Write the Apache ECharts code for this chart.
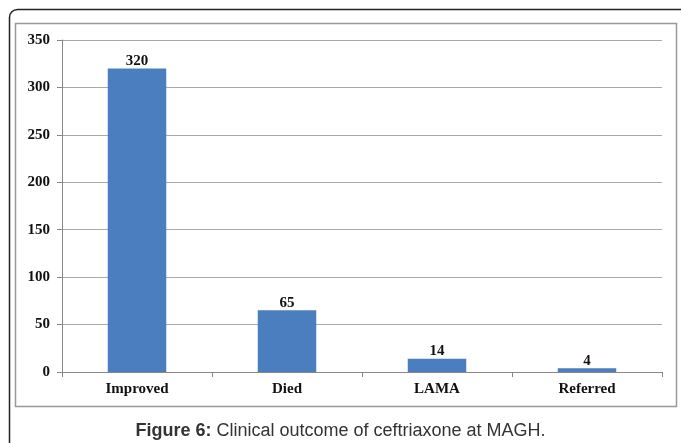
<!DOCTYPE html>
<html>
<head>
<meta charset="utf-8">
<script src="https://cdn.jsdelivr.net/npm/echarts@6/dist/echarts.min.js"></script>
<style>
  html, body { margin: 0; padding: 0; background: #fff; }
  #chart { width: 681px; height: 443px; }
</style>
</head>
<body>
<div id="chart"></div>
<script>
// outcome categories and patient counts
var categories = ['Improved', 'Died', 'LAMA', 'Referred'];
var counts = [320, 65, 14, 4];

var myChart = echarts.init(document.getElementById('chart'));
var serif = '"Liberation Serif", "Times New Roman", serif';

var option = {
  animation: false,
  grid: { left: 62, right: 19, top: 40, bottom: 71 },
  title: {
    text: '{b|Figure 6:} Clinical outcome of ceftriaxone at MAGH.',
    left: 'center',
    top: 417,
    textStyle: {
      fontFamily: '"Liberation Sans", Arial, sans-serif',
      fontSize: 18,
      fontWeight: 'normal',
      color: '#333',
      rich: {
        b: { fontFamily: '"Liberation Sans", Arial, sans-serif', fontSize: 18, fontWeight: 'bold', color: '#333' }
      }
    }
  },
  graphic: [
    // outer figure box
    {
      type: 'rect', silent: true,
      shape: { x: 9.5, y: 9.5, width: 720, height: 520, r: [8, 0, 0, 0] },
      style: { fill: 'none', stroke: '#222', lineWidth: 1.5 }
    },
    // chart frame
    {
      type: 'rect', silent: true,
      shape: { x: 15.5, y: 23.5, width: 661, height: 383 },
      style: { fill: 'none', stroke: '#999', lineWidth: 1.5 }
    }
  ],
  xAxis: {
    type: 'category',
    data: categories,
    axisLine: { lineStyle: { color: '#888' } },
    axisTick: { show: true, alignWithLabel: false, length: 5, lineStyle: { color: '#888' } },
    axisLabel: {
      fontFamily: serif, fontSize: 15, fontWeight: 'bold', color: '#111', margin: 10
    }
  },
  yAxis: {
    type: 'value',
    min: 0, max: 350, interval: 50,
    axisLine: { show: true, lineStyle: { color: '#888' } },
    axisTick: { show: true, length: 5, lineStyle: { color: '#888' } },
    splitLine: { lineStyle: { color: '#aaa' } },
    axisLabel: {
      fontFamily: serif, fontSize: 15, fontWeight: 'bold', color: '#111', margin: 12
    }
  },
  series: [
    {
      type: 'bar',
      data: counts,
      barWidth: '39%',
      itemStyle: { color: '#4a7ebf' },
      label: {
        show: true, position: 'top', distance: 0,
        fontFamily: serif, fontSize: 15, fontWeight: 'bold', color: '#111'
      }
    }
  ]
};

option && myChart.setOption(option);
</script>
</body>
</html>
